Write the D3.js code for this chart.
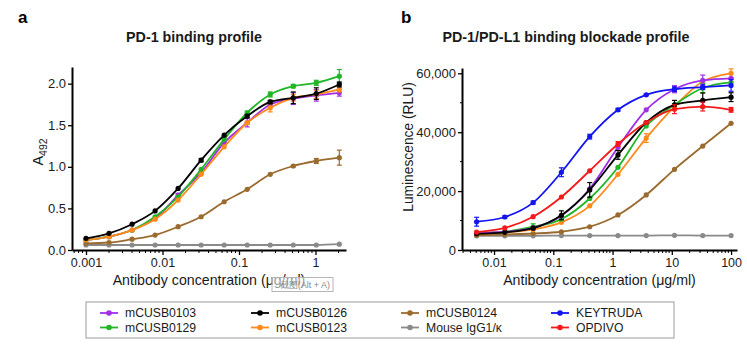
<!DOCTYPE html>
<html><head><meta charset="utf-8">
<script src="https://cdn.jsdelivr.net/npm/d3@7"></script>
<style>
html,body{margin:0;padding:0;background:#fff;}
svg{display:block;font-family:"Liberation Sans",Arial,sans-serif;}
</style></head>
<body>
<svg id="chart" width="747" height="344"></svg>
<script>
// ---------- DATA ----------
const concA = [0.001,0.002,0.004,0.008,0.016,0.032,0.064,0.128,0.256,0.512,1.024,2.048];
const a_m0103 = [0.12,0.16,0.24,0.38,0.66,0.93,1.29,1.53,1.75,1.82,1.86,1.89];
const a_m0129 = [0.12,0.16,0.24,0.40,0.64,0.97,1.33,1.65,1.87,1.97,2.01,2.09];
const a_m0126 = [0.14,0.20,0.31,0.47,0.74,1.08,1.38,1.61,1.78,1.83,1.88,1.99];
const a_m0123 = [0.12,0.16,0.24,0.37,0.60,0.91,1.24,1.53,1.71,1.83,1.87,1.93];
const a_m0124 = [0.08,0.09,0.13,0.18,0.28,0.40,0.58,0.73,0.91,1.01,1.07,1.11];
const a_igg   = [0.06,0.06,0.06,0.06,0.06,0.06,0.06,0.06,0.06,0.06,0.06,0.07];
const aErr_m0103 = [0,0,0,0,0.02,0,0.02,0.05,0.04,0.07,0.07,0.04];
const aErr_m0129 = [0,0,0,0,0,0,0,0.02,0.03,0.02,0.03,0.08];
const aErr_m0126 = [0,0,0,0,0,0.02,0,0.02,0.02,0.07,0.07,0.03];
const aErr_m0123 = [0,0,0,0,0,0,0,0.02,0.05,0.04,0.05,0.03];
const aErr_m0124 = [0,0,0,0,0,0,0,0,0,0.01,0.03,0.09];
const aErr_igg   = [0,0,0,0,0,0,0,0,0,0,0,0];

const concB = [0.00508,0.0152,0.0457,0.137,0.412,1.235,3.70,11.1,33.3,100];
const b_m0103 = [5700,6200,7500,11600,20800,34900,47600,54600,57600,58300];
const b_m0126 = [5500,6000,7400,11800,20400,32300,43300,49300,50800,51900];
const b_m0129 = [5700,6200,7900,10500,17500,28100,42100,49300,55000,56900];
const b_m0123 = [5400,5900,7000,9400,15000,25700,38000,48700,57200,60000];
const b_m0124 = [5000,5300,5600,6200,7900,11900,18700,27400,35300,43000];
const b_igg   = [4800,4800,4800,4900,4900,4900,4900,5000,4900,4900];
const b_keytruda = [9600,11200,16100,26400,38500,47600,52700,54600,55300,55900];
const b_opdivo   = [6100,7500,11300,18000,26900,36000,43300,47800,48700,47600];
const bErr_m0103 = [0,0,0,0,0,0,0,1200,1800,0];
const bErr_m0126 = [0,0,0,1500,2500,1500,0,1500,2500,1500];
const bErr_m0129 = [0,0,1000,0,0,0,0,0,1500,0];
const bErr_m0123 = [0,0,0,0,0,0,1500,0,0,1500];
const bErr_m0124 = [0,0,0,0,0,0,0,0,0,0];
const bErr_igg   = [0,0,0,0,0,0,0,0,0,0];
const bErr_keytruda = [1500,400,500,1500,800,500,300,800,800,2000];
const bErr_opdivo   = [0,0,0,0,0,800,0,1500,1500,800];

const yTicksA = [0,0.5,1.0,1.5,2.0];
const yTickLabelsA = ["0.0","0.5","1.0","1.5","2.0"];
const xTicksA = [0.001,0.01,0.1,1];
const xTickLabelsA = ["0.001","0.01","0.1","1"];
const yTicksB = [0,20000,40000,60000];
const yTickLabelsB = ["0","20,000","40,000","60,000"];
const yMinorB = [10000,30000,50000];
const xTicksB = [0.01,0.1,1,10,100];
const xTickLabelsB = ["0.01","0.1","1","10","100"];

const names = ["mCUSB0103","mCUSB0129","mCUSB0126","mCUSB0123","mCUSB0124","Mouse IgG1/κ","KEYTRUDA","OPDIVO"];
const colors = {"mCUSB0103":"#a12ee8","mCUSB0129":"#20b626","mCUSB0126":"#000000","mCUSB0123":"#ff8a1c",
  "mCUSB0124":"#9a6a2e","Mouse IgG1/κ":"#8a8a8a","KEYTRUDA":"#1414f0","OPDIVO":"#f51a1a"};

// ---------- BUILD ----------
const svg = d3.select("#chart");
const FONT = '"Liberation Sans",Arial,sans-serif';

function minorTicks(scale){
  const [d0,d1] = scale.domain();
  const out = [];
  for(let e=Math.floor(Math.log10(d0)); e<=Math.ceil(Math.log10(d1)); e++){
    for(let m=2;m<=9;m++){ const v=m*Math.pow(10,e); if(v>=d0&&v<=d1) out.push(v); }
  }
  return out;
}

function panel(cfg){
  const g = svg.append("g");
  const x = d3.scaleLog().domain(cfg.xDomain).range(cfg.xRange);
  const y = d3.scaleLinear().domain(cfg.yDomain).range(cfg.yRange);
  const y0 = cfg.yRange[0], x0 = cfg.xRange[0];

  // x axis
  const xa = g.append("g").attr("transform",`translate(0,${y0})`)
    .call(d3.axisBottom(x).tickValues(cfg.xTicks).tickFormat((d,i)=>cfg.xLabels[i]).tickSize(5).tickPadding(3).tickSizeOuter(0));
  xa.select(".domain").attr("stroke","#000").attr("stroke-width",2);
  xa.selectAll(".tick line").attr("stroke","#000").attr("stroke-width",1.3);
  xa.selectAll(".tick text").attr("font-size",12.5).attr("font-family",FONT).attr("fill","#1a1a1a");
  g.append("g").selectAll("line").data(minorTicks(x)).join("line")
    .attr("x1",d=>x(d)).attr("x2",d=>x(d)).attr("y1",y0).attr("y2",y0+3)
    .attr("stroke","#000").attr("stroke-width",1);

  // y axis
  const ya = g.append("g").attr("transform",`translate(${x0},0)`)
    .call(d3.axisLeft(y).tickValues(cfg.yTicks).tickFormat((d,i)=>cfg.yLabels[i]).tickSize(4).tickPadding(2).tickSizeOuter(0));
  ya.select(".domain").attr("stroke","#000").attr("stroke-width",2);
  ya.selectAll(".tick line").attr("stroke","#000").attr("stroke-width",1.3);
  ya.selectAll(".tick text").attr("font-size",13).attr("font-family",FONT).attr("fill","#1a1a1a");
  if(cfg.yMinor){
    g.append("g").selectAll("line").data(cfg.yMinor).join("line")
      .attr("x1",x0-2).attr("x2",x0).attr("y1",d=>y(d)).attr("y2",d=>y(d))
      .attr("stroke","#000").attr("stroke-width",1);
  }

  const line = d3.line().x(d=>x(d.c)).y(d=>y(d.v)).curve(d3.curveMonotoneX);
  cfg.series.forEach(s=>{
    const pts = cfg.conc.map((c,i)=>({c, v:s.values[i], e:s.err[i]}));
    const col = colors[s.name];
    const sg = g.append("g");
    sg.append("path").datum(pts).attr("d",line).attr("fill","none").attr("stroke",col).attr("stroke-width",1.8);
    const eb = pts.filter(p=>p.e>0);
    sg.selectAll("line.eb").data(eb).join("line").attr("class","eb")
      .attr("x1",d=>x(d.c)).attr("x2",d=>x(d.c)).attr("y1",d=>y(d.v-d.e)).attr("y2",d=>y(d.v+d.e))
      .attr("stroke",col).attr("stroke-width",1.2);
    sg.selectAll("line.cap1").data(eb).join("line").attr("class","cap1")
      .attr("x1",d=>x(d.c)-2.5).attr("x2",d=>x(d.c)+2.5).attr("y1",d=>y(d.v+d.e)).attr("y2",d=>y(d.v+d.e))
      .attr("stroke",col).attr("stroke-width",1.2);
    sg.selectAll("line.cap2").data(eb).join("line").attr("class","cap2")
      .attr("x1",d=>x(d.c)-2.5).attr("x2",d=>x(d.c)+2.5).attr("y1",d=>y(d.v-d.e)).attr("y2",d=>y(d.v-d.e))
      .attr("stroke",col).attr("stroke-width",1.2);
    sg.selectAll("circle").data(pts).join("circle")
      .attr("cx",d=>x(d.c)).attr("cy",d=>y(d.v)).attr("r",2.6).attr("fill",col);
  });

  // labels
  svg.append("text").attr("x",cfg.letterX).attr("y",23).attr("font-size",17).attr("font-weight","bold")
    .attr("font-family",FONT).text(cfg.letter);
  svg.append("text").attr("x",cfg.titleX).attr("y",42).attr("text-anchor","middle").attr("font-size",cfg.titleSize)
    .attr("font-weight","bold").attr("font-family",FONT).attr("fill","#1a1a1a").text(cfg.title);
  svg.append("text").attr("x",(cfg.xRange[0]+cfg.xRange[1])/2).attr("y",285).attr("text-anchor","middle")
    .attr("font-size",14.2).attr("font-family",FONT).attr("fill","#1a1a1a").text("Antibody concentration (μg/ml)");
  return {x,y};
}

panel({
  letter:"a", letterX:18, title:"PD-1 binding profile", titleX:194, titleSize:14.3,
  xDomain:[6.56e-4,2.505], xRange:[72,346], yDomain:[0,2.2], yRange:[250,67],
  xTicks:xTicksA, xLabels:xTickLabelsA, yTicks:yTicksA, yLabels:yTickLabelsA,
  conc:concA,
  series:[
    {name:"Mouse IgG1/κ", values:a_igg, err:aErr_igg},
    {name:"mCUSB0124", values:a_m0124, err:aErr_m0124},
    {name:"mCUSB0103", values:a_m0103, err:aErr_m0103},
    {name:"mCUSB0129", values:a_m0129, err:aErr_m0129},
    {name:"mCUSB0123", values:a_m0123, err:aErr_m0123},
    {name:"mCUSB0126", values:a_m0126, err:aErr_m0126}
  ]
});
panel({
  letter:"b", letterX:401, title:"PD-1/PD-L1 binding blockade profile", titleX:566, titleSize:14.3,
  xDomain:[2.88e-3,126], xRange:[462,737], yDomain:[0,61800], yRange:[250,68],
  xTicks:xTicksB, xLabels:xTickLabelsB, yTicks:yTicksB, yLabels:yTickLabelsB, yMinor:yMinorB,
  conc:concB,
  series:[
    {name:"Mouse IgG1/κ", values:b_igg, err:bErr_igg},
    {name:"mCUSB0124", values:b_m0124, err:bErr_m0124},
    {name:"mCUSB0123", values:b_m0123, err:bErr_m0123},
    {name:"mCUSB0129", values:b_m0129, err:bErr_m0129},
    {name:"mCUSB0103", values:b_m0103, err:bErr_m0103},
    {name:"mCUSB0126", values:b_m0126, err:bErr_m0126},
    {name:"OPDIVO", values:b_opdivo, err:bErr_opdivo},
    {name:"KEYTRUDA", values:b_keytruda, err:bErr_keytruda}
  ]
});

// y axis titles
const ta = svg.append("text").attr("transform","translate(43,152) rotate(-90)").attr("text-anchor","middle")
  .attr("font-size",14.5).attr("font-family",FONT).attr("fill","#1a1a1a");
ta.append("tspan").text("A");
ta.append("tspan").attr("font-size",10.5).attr("dy",4).text("492");
svg.append("text").attr("transform","translate(413,147) rotate(-90)").attr("text-anchor","middle")
  .attr("font-size",13.8).attr("font-family",FONT).attr("fill","#1a1a1a").text("Luminescence (RLU)");

// screenshot tooltip artifact over panel a axis title
svg.append("rect").attr("x",272).attr("y",277.5).attr("width",61).attr("height",14)
  .attr("fill","#fff").attr("fill-opacity",0.55).attr("stroke","#b5b5b5").attr("stroke-width",1);
svg.append("text").attr("x",330).attr("y",288).attr("text-anchor","end").attr("font-size",9)
  .attr("font-family",FONT).attr("fill","#8a8a8a").text("截图(Alt + A)");

// legend
svg.append("rect").attr("x",86).attr("y",302).attr("width",588).attr("height",36)
  .attr("fill","#fff").attr("stroke","#9a9a9a").attr("stroke-width",1);
const legCols = [100, 251, 401, 551];
const legRows = [313, 327.5];
const legendLayout = [["mCUSB0103","mCUSB0129"],["mCUSB0126","mCUSB0123"],["mCUSB0124","Mouse IgG1/κ"],["KEYTRUDA","OPDIVO"]];
legendLayout.forEach((col,ci)=>{
  col.forEach((nm,ri)=>{
    const lx = legCols[ci], ly = legRows[ri], c = colors[nm];
    svg.append("line").attr("x1",lx).attr("x2",lx+18).attr("y1",ly).attr("y2",ly).attr("stroke",c).attr("stroke-width",1.8);
    svg.append("circle").attr("cx",lx+9).attr("cy",ly).attr("r",2.8).attr("fill",c);
    svg.append("text").attr("x",lx+25).attr("y",ly+4.3).attr("font-size",12.2).attr("font-family",FONT)
      .attr("fill","#1a1a1a").text(nm);
  });
});
</script>
</body></html>
